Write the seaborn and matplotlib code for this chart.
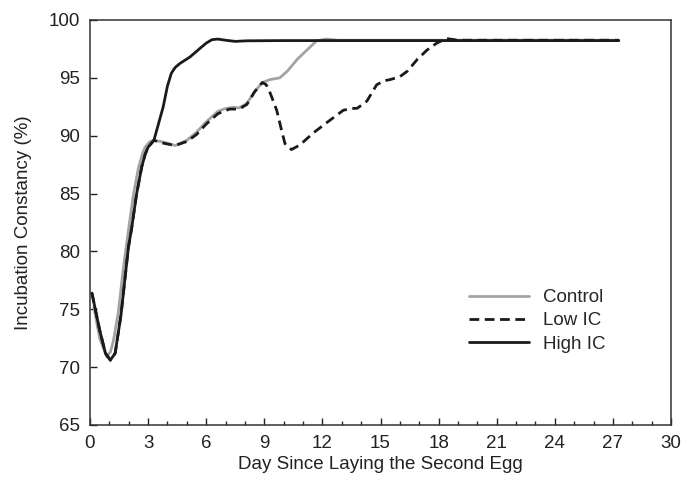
import numpy as np
import pandas as pd
import matplotlib
matplotlib.use("Agg")
import matplotlib.pyplot as plt
from matplotlib.ticker import MultipleLocator
import seaborn as sns

# values
control_day = [0.2, 0.5, 0.86, 1.05, 1.2, 1.46, 1.72, 2.0, 2.25, 2.5, 2.7, 2.84, 3.1, 3.3, 3.8,
               4.4, 5.0, 5.5, 6.0, 6.6, 7.0, 7.4, 7.7, 8.1, 8.5, 8.9, 9.3, 9.8, 10.2, 10.7,
               11.2, 11.7, 12.2, 12.8, 14, 16, 18, 20, 22, 24, 26, 27.3]
control_ic = [75.2, 72.5, 70.9, 71.3, 72.2, 74.7, 78.5, 82.0, 85.0, 87.2, 88.4, 89.0, 89.5, 89.6,
              89.45, 89.15, 89.6, 90.3, 91.2, 92.1, 92.35, 92.45, 92.4, 92.8, 93.8, 94.6,
              94.85, 95.0, 95.6, 96.6, 97.4, 98.2, 98.35, 98.25, 98.25, 98.25, 98.25, 98.25,
              98.25, 98.25, 98.25, 98.25]

low_day = [0.1, 0.5, 0.8, 1.05, 1.3, 1.6, 1.98, 2.15, 2.4, 2.67, 2.85, 3.0, 3.3, 3.8, 4.4, 5.0,
           5.5, 6.0, 6.6, 7.2, 7.7, 8.1, 8.5, 8.9, 9.1, 9.3, 9.64, 9.9, 10.07, 10.4, 10.84,
           11.5, 12.2, 13.08, 13.5, 13.8, 14.3, 14.8, 15.2, 15.5, 16.0, 16.4, 16.9, 17.4,
           17.9, 18.4, 19, 21, 24, 27.3]
low_ic = [76.4, 73.2, 71.2, 70.6, 71.2, 74.5, 80.3, 82.0, 84.9, 87.3, 88.4, 89.0, 89.6, 89.35,
          89.15, 89.5, 90.1, 91.0, 91.9, 92.3, 92.3, 92.7, 93.8, 94.6, 94.4, 93.7, 92.2, 90.4,
          89.3, 88.8, 89.2, 90.2, 91.1, 92.2, 92.35, 92.37, 93.0, 94.4, 94.75, 94.85, 95.1,
          95.6, 96.6, 97.4, 98.0, 98.4, 98.25, 98.25, 98.25, 98.25]

high_day = [0.1, 0.5, 0.8, 1.05, 1.3, 1.6, 1.98, 2.15, 2.4, 2.67, 2.85, 3.0, 3.3, 3.5, 3.78,
            4.0, 4.2, 4.4, 4.65, 5.16, 5.68, 6.0, 6.3, 6.6, 7.0, 7.5, 8.1, 10, 14, 18, 22,
            27.3]
high_ic = [76.4, 73.2, 71.2, 70.6, 71.2, 74.5, 80.3, 82.0, 84.9, 87.3, 88.4, 89.0, 89.6, 90.8,
           92.5, 94.3, 95.4, 95.9, 96.25, 96.8, 97.55, 98.0, 98.3, 98.35, 98.25, 98.15, 98.2,
           98.22, 98.22, 98.22, 98.22, 98.22]

sns.set_style("white")
plt.rcParams["font.family"] = ["Liberation Sans", "DejaVu Sans"]

FS = 13.5
fig = plt.figure(figsize=(6.89, 4.78), dpi=100)
ax = fig.add_axes([0.1306, 0.1109, 0.8434, 0.8473])

sns.lineplot(x=control_day, y=control_ic, ax=ax, color="#a3a3a3", lw=2.0, sort=False,
             label="Control")
sns.lineplot(x=low_day, y=low_ic, ax=ax, color="#1a1a1a", lw=2.0, sort=False,
             label="Low IC", dashes=False)
ax.lines[-1].set_linestyle((0, (3.5, 2)))
sns.lineplot(x=high_day, y=high_ic, ax=ax, color="#1a1a1a", lw=2.0, sort=False,
             label="High IC")
# keep dashed line on top
ax.lines[1].set_zorder(4)

ax.set_xlim(0, 30)
ax.set_ylim(65, 100)
ax.xaxis.set_major_locator(MultipleLocator(3))
ax.xaxis.set_minor_locator(MultipleLocator(1))
ax.yaxis.set_major_locator(MultipleLocator(5))
ax.tick_params(axis="both", which="major", direction="in", length=5, width=1,
               labelsize=FS, colors="#222222", bottom=True, left=True, pad=7)
ax.tick_params(axis="x", which="minor", direction="in", length=3, width=1, bottom=True)
for sp in ax.spines.values():
    sp.set_color("#333333")
    sp.set_linewidth(1.1)

ax.set_xlabel("Day Since Laying the Second Egg", fontsize=FS, color="#222222", labelpad=3)
ax.set_ylabel("Incubation Constancy (%)", fontsize=FS, color="#222222", labelpad=12)

ax.legend(loc="center left", bbox_to_anchor=(0.624, 0.257), frameon=False, fontsize=FS,
          handlelength=3.2, handletextpad=0.7, labelspacing=0.33)

fig.savefig("out.png", dpi=100)
